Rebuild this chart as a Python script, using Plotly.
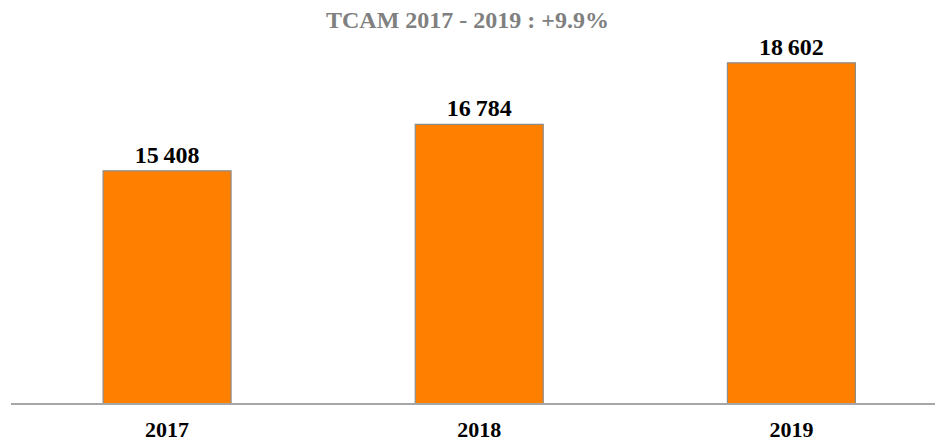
import plotly.graph_objects as go

years = ["2017", "2018", "2019"]
values = [15408, 16784, 18602]
labels = ["15\u2009408", "16\u2009784", "18\u2009602"]
title_text = "TCAM 2017 - 2019 : +9.9%"

fig = go.Figure(
    go.Bar(
        x=years,
        y=values,
        text=labels,
        textposition="outside",
        cliponaxis=False,
        width=0.41,
        marker=dict(color="#ff7f00", line=dict(color="#8c8c8c", width=1.2)),
        textfont=dict(family="Liberation Serif", size=24, color="black", weight="bold"),
        hoverinfo="skip",
    )
)

fig.update_layout(
    width=935,
    height=444,
    margin=dict(l=11, r=0, t=40, b=41, autoexpand=False),
    paper_bgcolor="white",
    plot_bgcolor="white",
    showlegend=False,
    title=dict(
        text=title_text,
        x=0.5,
        xanchor="center",
        y=0.955,
        yanchor="middle",
        font=dict(family="Liberation Serif", size=24, color="#808080", weight="bold"),
    ),
    xaxis=dict(
        type="category",
        range=[-0.5, 2.46],
        automargin=False,
        showline=True,
        linecolor="#a6a6a6",
        linewidth=1.5,
        showgrid=False,
        ticks="",
        ticklabelstandoff=6,
        tickfont=dict(family="Liberation Serif", size=22, color="black", weight="bold"),
    ),
    yaxis=dict(
        range=[8541, 19277],
        visible=False,
        showgrid=False,
        zeroline=False,
    ),
)

fig.write_html("out.html")
